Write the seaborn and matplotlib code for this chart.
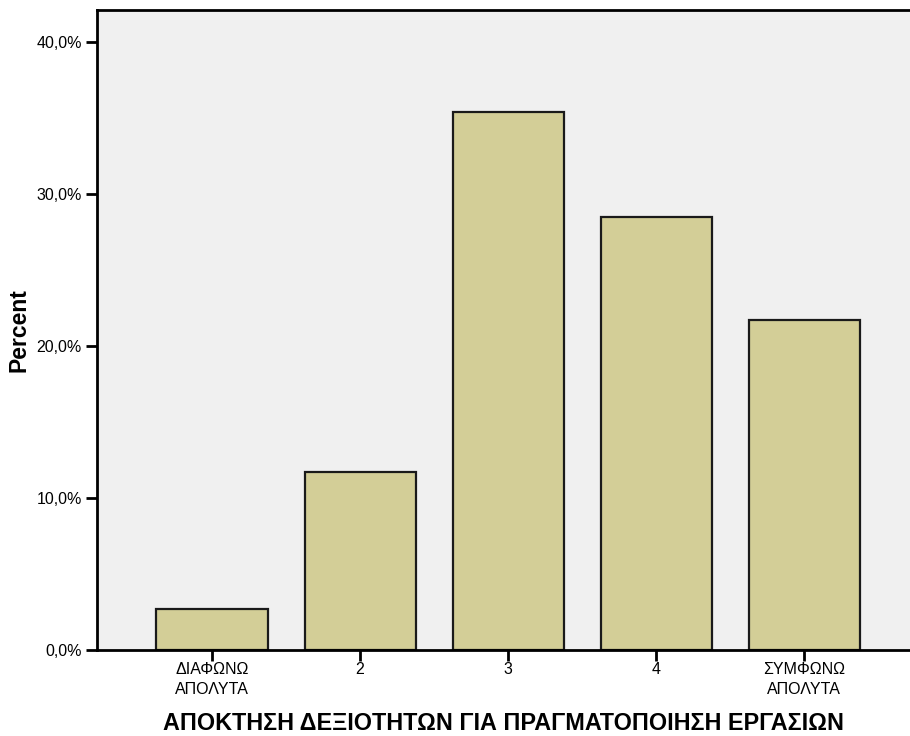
import matplotlib
matplotlib.use("Agg")
import matplotlib.pyplot as plt
import seaborn as sns
import pandas as pd
from matplotlib.ticker import FuncFormatter

categories = ["ΔΙΑΦΩΝΩ\nΑΠΟΛΥΤΑ", "2", "3", "4", "ΣΥΜΦΩΝΩ\nΑΠΟΛΥΤΑ"]
percent = [2.7, 11.7, 35.4, 28.5, 21.7]
y_ticks = [0, 10, 20, 30, 40]

df = pd.DataFrame({"cat": categories, "pct": percent})

sns.set_style("white")
plt.rcParams["font.family"] = ["Liberation Sans", "DejaVu Sans"]
plt.rcParams["text.color"] = "black"
plt.rcParams["axes.labelcolor"] = "black"
plt.rcParams["xtick.color"] = "black"
plt.rcParams["ytick.color"] = "black"

fig = plt.figure(figsize=(9.1, 7.36), dpi=100)
ax = fig.add_axes([97 / 910, 86 / 736, 813 / 910, 640 / 736])
ax.set_facecolor("#F0F0F0")

sns.barplot(data=df, x="cat", y="pct", color="#D3CE97", edgecolor="#1a1a1a",
            linewidth=1.6, width=0.75, saturation=1, ax=ax)

ax.set_xlim(-0.777, 4.716)
ax.set_ylim(0, 42.1)
ax.set_yticks(y_ticks)
ax.yaxis.set_major_formatter(FuncFormatter(lambda v, p: f"{v:.1f}%".replace(".", ",")))

for s in ["left", "bottom", "top"]:
    ax.spines[s].set_visible(True)
    ax.spines[s].set_linewidth(2)
    ax.spines[s].set_color("black")
ax.spines["right"].set_visible(False)

ax.tick_params(axis="both", length=8, width=2, color="black", labelsize=11.5, pad=3,
               left=True, bottom=True, labelcolor="black")
ax.tick_params(axis="x", pad=1)
for t in ax.get_xticklabels():
    t.set_linespacing(1.35)

ax.set_ylabel("Percent", fontsize=16.5, fontweight="bold", labelpad=4)
ax.set_xlabel("ΑΠΟΚΤΗΣΗ ΔΕΞΙΟΤΗΤΩΝ ΓΙΑ ΠΡΑΓΜΑΤΟΠΟΙΗΣΗ ΕΡΓΑΣΙΩΝ",
              fontsize=16.8, fontweight="bold", labelpad=11)

fig.savefig("out.png", dpi=100)
